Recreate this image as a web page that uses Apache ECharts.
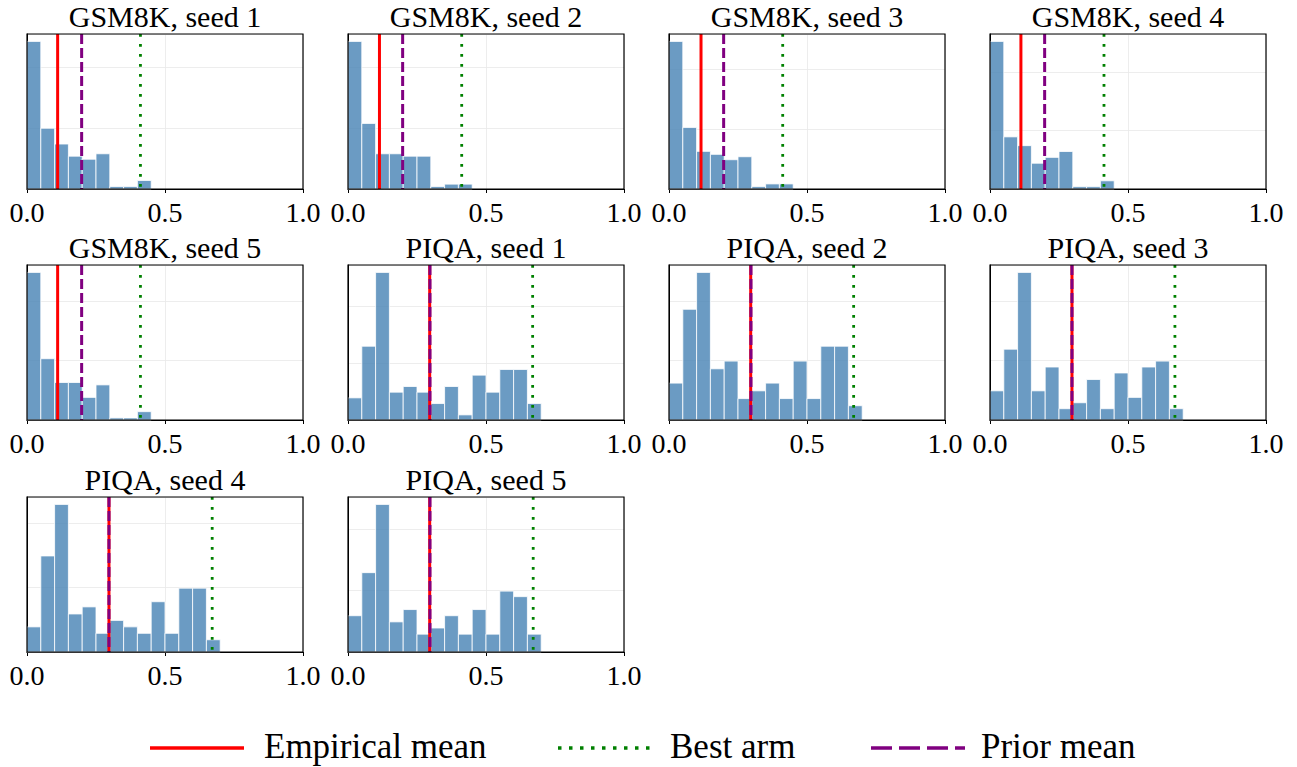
<!DOCTYPE html>
<html>
<head>
<meta charset="utf-8">
<script src="https://cdn.jsdelivr.net/npm/echarts@6/dist/echarts.min.js"></script>
<style>
  html, body { margin: 0; padding: 0; background: #fff; }
  #chart { width: 1297px; height: 767px; }
</style>
</head>
<body>
<div id="chart"></div>
<script>
// Panel titles, in reading order (4 panels per row)
const panelTitles = [
  'GSM8K, seed 1', 'GSM8K, seed 2', 'GSM8K, seed 3', 'GSM8K, seed 4',
  'GSM8K, seed 5', 'PIQA, seed 1', 'PIQA, seed 2', 'PIQA, seed 3',
  'PIQA, seed 4', 'PIQA, seed 5'
];

// Histogram bin edges for arm accuracies
const gsm8kBinEdges = [0.00, 0.05, 0.10, 0.15, 0.20, 0.25, 0.30, 0.35, 0.40, 0.45];
const piqaBinEdges  = [0.00, 0.05, 0.10, 0.15, 0.20, 0.25, 0.30, 0.35, 0.40, 0.45, 0.50, 0.55, 0.60, 0.65, 0.70];

// Bin heights (density, one value per bin)
const gsm8kSeed1 = [2.43, 1.00, 0.74, 0.54, 0.49, 0.58, 0.04, 0.04, 0.14];
const gsm8kSeed2 = [2.43, 1.08, 0.58, 0.58, 0.54, 0.54, 0.04, 0.08, 0.08];
const gsm8kSeed3 = [2.47, 1.03, 0.63, 0.58, 0.49, 0.54, 0.04, 0.085, 0.085];
const gsm8kSeed4 = [2.52, 0.89, 0.74, 0.44, 0.54, 0.64, 0.04, 0.04, 0.14];
const gsm8kSeed5 = [2.48, 1.03, 0.63, 0.63, 0.38, 0.59, 0.035, 0.035, 0.14];
const piqaSeed1  = [0.39, 1.30, 2.60, 0.49, 0.59, 0.49, 0.29, 0.59, 0.09, 0.79, 0.49, 0.89, 0.89, 0.29];
const piqaSeed2  = [0.62, 1.86, 2.48, 0.86, 0.99, 0.36, 0.49, 0.62, 0.36, 0.99, 0.36, 1.24, 1.24, 0.24];
const piqaSeed3  = [0.49, 1.19, 2.48, 0.49, 0.89, 0.19, 0.29, 0.68, 0.19, 0.79, 0.38, 0.89, 0.99, 0.19];
const piqaSeed4  = [0.39, 1.49, 2.29, 0.59, 0.70, 0.29, 0.49, 0.39, 0.29, 0.78, 0.29, 0.99, 0.99, 0.19];
const piqaSeed5  = [0.59, 1.29, 2.40, 0.49, 0.69, 0.29, 0.39, 0.59, 0.29, 0.69, 0.29, 0.99, 0.90, 0.29];

// Reference lines per panel
const empiricalMean = [0.111, 0.114, 0.116, 0.112, 0.111, 0.296, 0.296, 0.297, 0.297, 0.296];
const bestArm       = [0.411, 0.412, 0.412, 0.413, 0.411, 0.669, 0.669, 0.670, 0.671, 0.671];
const priorMean     = [0.198, 0.198, 0.198, 0.198, 0.198, 0.297, 0.297, 0.297, 0.297, 0.297];

// Axis and legend text
const xTickValues = [0.0, 0.5, 1.0];
const legendLabels = ['Empirical mean', 'Best arm', 'Prior mean'];

const panelHeights = [gsm8kSeed1, gsm8kSeed2, gsm8kSeed3, gsm8kSeed4, gsm8kSeed5,
                      piqaSeed1, piqaSeed2, piqaSeed3, piqaSeed4, piqaSeed5];
const panelEdges = [gsm8kBinEdges, gsm8kBinEdges, gsm8kBinEdges, gsm8kBinEdges, gsm8kBinEdges,
                    piqaBinEdges, piqaBinEdges, piqaBinEdges, piqaBinEdges, piqaBinEdges];

// Layout
const colLefts = [27, 348, 669, 990];
const rowTops = [34, 265, 497];
const panelWidth = 276;
const panelHeight = 155;

const FONT = 'Liberation Serif, DejaVu Serif, serif';
const BAR_FILL = 'rgba(70,130,180,0.8)';
const RED = '#ff0000', GREEN = '#008000', PURPLE = '#800080';

function renderBin(params, api) {
  const top = api.coord([api.value(0), api.value(2)]);
  const bottom = api.coord([api.value(1), 0]);
  return {
    type: 'rect',
    shape: { x: top[0], y: top[1], width: bottom[0] - top[0], height: bottom[1] - top[1] },
    style: { fill: BAR_FILL, stroke: '#ffffff', lineWidth: 0.8 }
  };
}

function vLineRenderer(color, dash, width) {
  return function (params, api) {
    const cs = params.coordSys;
    const x = api.coord([api.value(0), 0])[0];
    return {
      type: 'line',
      shape: { x1: x, y1: cs.y, x2: x, y2: cs.y + cs.height },
      style: { stroke: color, lineWidth: width, lineDash: dash, lineCap: 'butt' }
    };
  };
}

function renderFrame(params, api) {
  const cs = params.coordSys;
  return {
    type: 'rect',
    shape: { x: cs.x, y: cs.y, width: cs.width, height: cs.height },
    style: { fill: 'none', stroke: '#000000', lineWidth: 1.2 }
  };
}

const grids = [], xAxes = [], yAxes = [], series = [], graphics = [];

panelTitles.forEach(function (title, i) {
  const left = colLefts[i % 4];
  const top = rowTops[Math.floor(i / 4)];
  grids.push({ left: left, top: top, width: panelWidth, height: panelHeight, containLabel: false });

  xAxes.push({
    gridIndex: i, type: 'value', min: xTickValues[0], max: xTickValues[2],
    interval: xTickValues[1] - xTickValues[0],
    axisLine: { show: true, lineStyle: { color: '#000', width: 1 } },
    axisTick: { show: true, length: 4, lineStyle: { color: '#000', width: 1 } },
    axisLabel: {
      show: true, margin: 9, fontSize: 28, color: '#000', fontFamily: FONT,
      formatter: function (v) { return v.toFixed(1); }
    },
    splitLine: { show: true, lineStyle: { color: '#e8e8e8', width: 0.8 } }
  });

  yAxes.push({
    gridIndex: i, type: 'value', min: 0,
    max: function (ext) { return ext.max * 1.05; },
    interval: 1,
    axisLine: { show: true, lineStyle: { color: '#000', width: 1 } },
    axisTick: { show: false },
    axisLabel: { show: false },
    splitLine: { show: true, lineStyle: { color: '#e8e8e8', width: 0.8 } }
  });

  const edges = panelEdges[i];
  const bins = panelHeights[i].map(function (h, k) { return [edges[k], edges[k + 1], h]; });

  series.push({
    type: 'custom', xAxisIndex: i, yAxisIndex: i, z: 2,
    renderItem: renderBin, encode: { x: [0, 1], y: 2 }, data: bins, silent: true
  });
  series.push({
    type: 'custom', xAxisIndex: i, yAxisIndex: i, z: 3,
    renderItem: vLineRenderer(RED, null, 3), encode: { x: 0, y: 1 },
    data: [[empiricalMean[i], 0]], silent: true
  });
  series.push({
    type: 'custom', xAxisIndex: i, yAxisIndex: i, z: 4,
    renderItem: vLineRenderer(GREEN, [2.7, 7.3], 2.8), encode: { x: 0, y: 1 },
    data: [[bestArm[i], 0]], silent: true
  });
  series.push({
    type: 'custom', xAxisIndex: i, yAxisIndex: i, z: 5,
    renderItem: vLineRenderer(PURPLE, [10, 4], 3), encode: { x: 0, y: 1 },
    data: [[priorMean[i], 0]], silent: true
  });
  series.push({
    type: 'custom', xAxisIndex: i, yAxisIndex: i, z: 10,
    renderItem: renderFrame, encode: { x: 0, y: 1 },
    data: [[0, 0]], silent: true
  });

  graphics.push({
    type: 'text', x: left + panelWidth / 2, y: top - 17.5, silent: true,
    style: {
      text: title, fill: '#000', fontSize: 30, fontFamily: FONT,
      textAlign: 'center', textVerticalAlign: 'middle'
    }
  });
});

// Legend along the bottom
const legendItems = [
  { label: legendLabels[0], color: RED,    dash: null,       lineX: 150, textX: 264 },
  { label: legendLabels[1], color: GREEN,  dash: [3.5, 7.5], lineX: 558, textX: 670 },
  { label: legendLabels[2], color: PURPLE, dash: [21, 7],    lineX: 871, textX: 981 }
];
const legendY = 746;
legendItems.forEach(function (it) {
  graphics.push({
    type: 'line', silent: true,
    shape: { x1: it.lineX, y1: legendY + 2, x2: it.lineX + 94, y2: legendY + 2 },
    style: { stroke: it.color, lineWidth: 3.6, lineDash: it.dash, lineCap: 'butt' }
  });
  graphics.push({
    type: 'text', x: it.textX, y: legendY, silent: true,
    style: { text: it.label, fill: '#000', fontSize: 35, fontFamily: FONT,
             textAlign: 'left', textVerticalAlign: 'middle' }
  });
});

const chart = echarts.init(document.getElementById('chart'), null, { renderer: 'svg' });
chart.setOption({
  animation: false,
  backgroundColor: '#ffffff',
  textStyle: { fontFamily: FONT },
  grid: grids,
  xAxis: xAxes,
  yAxis: yAxes,
  series: series,
  graphic: graphics
});
</script>
</body>
</html>
